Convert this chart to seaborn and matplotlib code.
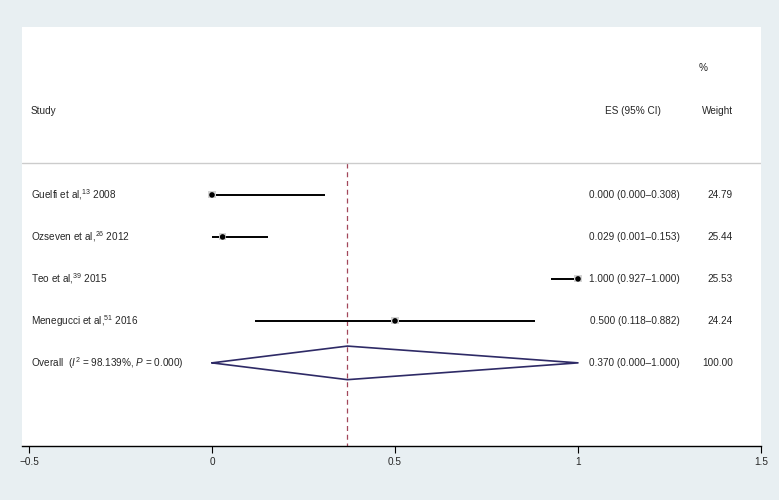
import numpy as np
import pandas as pd
import matplotlib
matplotlib.use("Agg")
import matplotlib.pyplot as plt
import seaborn as sns

# forest plot data
studies = ["Guelfi et al,$^{13}$ 2008", "Ozseven et al,$^{26}$ 2012",
           "Teo et al,$^{39}$ 2015", "Menegucci et al,$^{51}$ 2016"]
es = [0.000, 0.029, 1.000, 0.500]
ci_low = [0.000, 0.001, 0.927, 0.118]
ci_high = [0.308, 0.153, 1.000, 0.882]
weights = [24.79, 25.44, 25.53, 24.24]

overall_es = 0.370
overall_low = 0.000
overall_high = 1.000
overall_label = r"Overall  ($\mathit{I}^2$ = 98.139%, $\mathit{P}$ = 0.000)"

xticks = [-0.5, 0, 0.5, 1, 1.5]
xticklabels = ["\u22120.5", "0", "0.5", "1", "1.5"]


def main():
    sns.set_style("white")
    plt.rcParams['font.family'] = ['Liberation Sans', 'DejaVu Sans']
    plt.rcParams['mathtext.fontset'] = 'custom'
    plt.rcParams['mathtext.rm'] = 'Liberation Sans'
    plt.rcParams['mathtext.it'] = 'Liberation Sans:italic'

    bg = '#e8eff2'
    fig = plt.figure(figsize=(7.79, 5), dpi=100, facecolor=bg)
    ax = fig.add_axes([22 / 779, 54 / 500, 739 / 779, 419 / 500])
    ax.set_facecolor('white')

    rows = np.arange(len(studies))
    df = pd.DataFrame({"es": es, "lo": ci_low, "hi": ci_high, "row": rows})

    # confidence intervals
    ax.hlines(df["row"], df["lo"], df["hi"], color='black', linewidth=1.4, zorder=2)
    # weight boxes + point estimates
    sns.scatterplot(data=df, x="es", y="row", marker='s', s=26, color='#d4d4d4',
                    edgecolor='none', ax=ax, zorder=3, legend=False)
    sns.scatterplot(data=df, x="es", y="row", marker='o', s=16, color='black',
                    edgecolor='none', ax=ax, zorder=4, legend=False)

    # overall diamond
    orow = len(studies)
    dx = [overall_low, overall_es, overall_high, overall_es, overall_low]
    dy = [orow, orow - 0.4, orow, orow + 0.4, orow]
    ax.plot(dx, dy, color='#2e2a66', linewidth=1.2, zorder=3)

    # dashed line at overall estimate
    ax.vlines(overall_es, -0.76, 5.98, color='#a3475a', linestyle=(0, (4, 3)),
              linewidth=0.9, zorder=1)
    # header separator
    ax.axhline(-0.76, color='#cccccc', linewidth=1.0)

    ax.set_xlim(-0.5 - 7 / 366, 1.5)
    ax.set_ylim(5.98, -4.0)

    fs = 7.2
    tr = ax.get_yaxis_transform()
    def px(x):
        return (x - 22) / 739

    ax.text(px(31), -2.0, "Study", fontsize=fs, va='center', ha='left', transform=tr)
    ax.text(px(661), -2.0, "ES (95% CI)", fontsize=fs, va='center', ha='right', transform=tr)
    ax.text(px(733), -2.0, "Weight", fontsize=fs, va='center', ha='right', transform=tr)
    ax.text(px(699), -3.02, "%", fontsize=fs, va='center', ha='left', transform=tr)

    for i, name in enumerate(studies):
        ax.text(px(31), i, name, fontsize=fs, va='center', ha='left', transform=tr)
        ax.text(px(680), i, f"{es[i]:.3f} ({ci_low[i]:.3f}\u2013{ci_high[i]:.3f})",
                fontsize=fs, va='center', ha='right', transform=tr)
        ax.text(px(733), i, f"{weights[i]:.2f}", fontsize=fs, va='center', ha='right', transform=tr)

    ax.text(px(31), orow, overall_label, fontsize=fs, va='center', ha='left', transform=tr)
    ax.text(px(680), orow, f"{overall_es:.3f} ({overall_low:.3f}\u2013{overall_high:.3f})",
            fontsize=fs, va='center', ha='right', transform=tr)
    ax.text(px(733), orow, f"{sum(weights):.2f}", fontsize=fs, va='center', ha='right', transform=tr)

    # axis styling: only bottom axis
    for s in ['top', 'right', 'left']:
        ax.spines[s].set_visible(False)
    ax.spines['bottom'].set_color('black')
    ax.spines['bottom'].set_linewidth(1.0)
    ax.set_yticks([])
    ax.set_xticks(xticks)
    ax.set_xticklabels(xticklabels, fontsize=fs)
    ax.tick_params(axis='x', direction='out', length=5, width=0.8, color='black', pad=3, bottom=True)
    ax.set_xlabel("")
    ax.set_ylabel("")

    fig.savefig("out.png", dpi=100, facecolor=bg)


if __name__ == "__main__":
    main()
